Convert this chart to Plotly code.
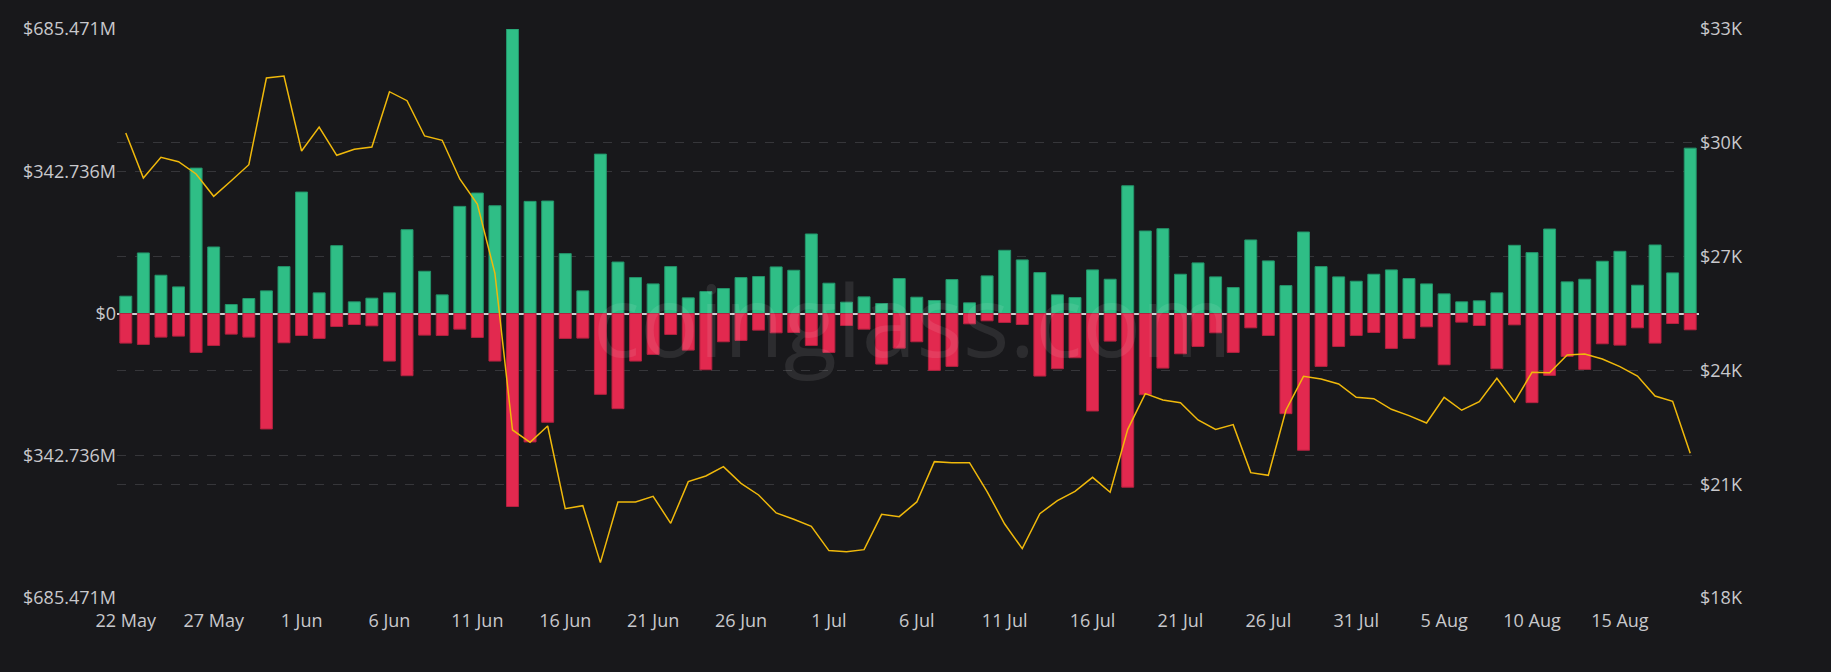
import pandas as pd
import plotly.graph_objects as go

# ---- data ----
start_date = "2022-05-22"
n_days = 90

long_liq = [41.7, 145.9, 92.2, 64.1, 350.3, 160.3, 21.6, 36.1, 54.5, 113.0,
            292.6, 49.7, 163.5, 28.1, 36.9, 49.7, 202.0, 101.8, 44.9, 258.1,
            290.2, 259.7, 685.471, 270.2, 271.0, 144.3, 54.5, 384.0, 124.0, 86.6,
            71.3, 113.0, 37.7, 52.9, 60.1, 86.6, 89.0, 112.2, 104.2, 191.6,
            73.0, 27.3, 40.1, 24.1, 84.2, 39.3, 31.3, 81.8, 25.7, 90.6,
            152.3, 129.1, 98.6, 44.9, 38.5, 105.0, 82.6, 307.8, 198.8, 204.4,
            94.6, 121.9, 88.2, 62.5, 177.2, 126.7, 67.3, 196.4, 113.0, 88.2,
            77.8, 94.6, 105.0, 84.2, 71.3, 47.3, 28.1, 30.5, 49.7, 164.3,
            146.7, 203.6, 76.2, 82.6, 125.9, 149.9, 68.1, 165.1, 97.8, 398.4]

short_liq = [71.3, 74.6, 56.9, 54.5, 93.8, 77.0, 49.7, 56.9, 278.2, 70.5,
             52.9, 60.1, 31.3, 26.5, 29.7, 114.6, 149.9, 52.1, 52.9, 37.7,
             57.7, 114.6, 465.0, 309.4, 262.1, 60.1, 59.3, 194.8, 229.3, 114.6,
             98.6, 50.5, 88.2, 135.5, 68.1, 64.9, 40.1, 46.5, 45.7, 77.0,
             93.8, 28.9, 37.7, 121.9, 83.4, 68.1, 137.1, 127.5, 24.9, 17.6,
             21.6, 26.5, 150.7, 133.1, 106.6, 234.9, 66.5, 418.5, 195.6, 131.5,
             97.0, 79.4, 46.5, 93.8, 34.5, 52.9, 241.3, 329.5, 127.5, 79.4,
             52.9, 45.7, 84.2, 60.1, 32.1, 123.5, 20.8, 28.9, 133.1, 27.3,
             214.8, 149.1, 103.4, 134.7, 73.0, 76.2, 34.5, 71.3, 24.1, 39.3]

btc_price = [30258, 29072, 29618, 29502, 29178, 28590, 29001, 29423, 31708, 31761,
             29784, 30417, 29670, 29829, 29890, 31347, 31110, 30180, 30066, 29046,
             28387, 26560, 22430, 22105, 22535, 20355, 20434, 18932, 20532, 20532,
             20681, 19969, 21067, 21217, 21463, 21024, 20716, 20242, 20075, 19890,
             19249, 19222, 19275, 20206, 20145, 20532, 21595, 21568, 21568, 20804,
             19951, 19301, 20224, 20567, 20813, 21181, 20787, 22446, 23387, 23220,
             23150, 22693, 22446, 22570, 21305, 21235, 22950, 23844, 23774, 23642,
             23290, 23254, 22975, 22808, 22614, 23290, 22950, 23176, 23791, 23168,
             23950, 23940, 24406, 24432, 24300, 24098, 23853, 23326, 23186, 21815]

x_tick_dates = ["2022-05-22", "2022-05-27", "2022-06-01", "2022-06-06", "2022-06-11",
                "2022-06-16", "2022-06-21", "2022-06-26", "2022-07-01", "2022-07-06",
                "2022-07-11", "2022-07-16", "2022-07-21", "2022-07-26", "2022-07-31",
                "2022-08-05", "2022-08-10", "2022-08-15"]
x_tick_labels = ["22 May", "27 May", "1 Jun", "6 Jun", "11 Jun", "16 Jun", "21 Jun",
                 "26 Jun", "1 Jul", "6 Jul", "11 Jul", "16 Jul", "21 Jul", "26 Jul",
                 "31 Jul", "5 Aug", "10 Aug", "15 Aug"]

y_left_vals = [-685.471, -342.736, 0, 342.736, 685.471]
y_left_labels = ["$685.471M", "$342.736M", "$0", "$342.736M", "$685.471M"]
y_right_vals = [18000, 21000, 24000, 27000, 30000, 33000]
y_right_labels = ["$18K", "$21K", "$24K", "$27K", "$30K", "$33K"]

# ---- figure ----
dates = pd.date_range(start_date, periods=n_days, freq="D")
day_ms = 86400000
BG = "#18181b"
GRID = "#36363a"
TXT = "#c8c8cc"
FONT = "Open Sans"
FS = 18

fig = go.Figure()
fig.add_trace(go.Bar(
    x=dates, y=long_liq, width=0.68 * day_ms,
    marker=dict(color="#2fbe86", line=dict(color="#23946a", width=1)),
    name="Long", yaxis="y"))
fig.add_trace(go.Bar(
    x=dates, y=[-v for v in short_liq], width=0.68 * day_ms,
    marker=dict(color="#e2294f", line=dict(color="#b3213f", width=1)),
    name="Short", yaxis="y"))
fig.add_trace(go.Scatter(
    x=dates, y=btc_price, mode="lines",
    line=dict(color="#f0b90b", width=1.5),
    name="Price", yaxis="y2"))

fig.update_layout(
    width=1831, height=672,
    paper_bgcolor=BG, plot_bgcolor=BG,
    margin=dict(l=117, r=132, t=29, b=74),
    showlegend=False,
    barmode="overlay",
    font=dict(family=FONT, color=TXT, size=FS),
    xaxis=dict(
        type="date",
        range=[dates[0] - pd.Timedelta(hours=12), dates[-1] + pd.Timedelta(hours=12)],
        tickvals=x_tick_dates, ticktext=x_tick_labels,
        showgrid=False, zeroline=False, showline=False, ticks="",
        tickfont=dict(size=FS, color=TXT, family=FONT),
        ticklabelstandoff=10,
    ),
    yaxis=dict(
        range=[-685.471, 685.471],
        tickvals=y_left_vals, ticktext=y_left_labels,
        showgrid=True, gridcolor=GRID, griddash="dash", gridwidth=1,
        zeroline=True, zerolinecolor="#cfcfd2", zerolinewidth=1.5,
        showline=False, ticks="",
        tickfont=dict(size=FS, color=TXT, family=FONT),
    ),
    yaxis2=dict(
        overlaying="y", side="right",
        range=[18000, 33000],
        tickvals=y_right_vals, ticktext=y_right_labels,
        showgrid=True, gridcolor=GRID, griddash="dash", gridwidth=1,
        zeroline=False, showline=False, ticks="",
        tickfont=dict(size=FS, color=TXT, family=FONT),
    ),
    annotations=[dict(
        text="coinglass.com", xref="paper", yref="paper",
        x=0.503, y=0.49, xanchor="center", yanchor="middle",
        showarrow=False,
        font=dict(size=98, color="rgba(255,255,255,0.09)", family="Open Sans"),
    )],
)

fig.write_html(
    "out.html",
    config={"displayModeBar": False},
    post_script="document.body.style.margin='0';document.body.style.overflow='hidden';",
)
